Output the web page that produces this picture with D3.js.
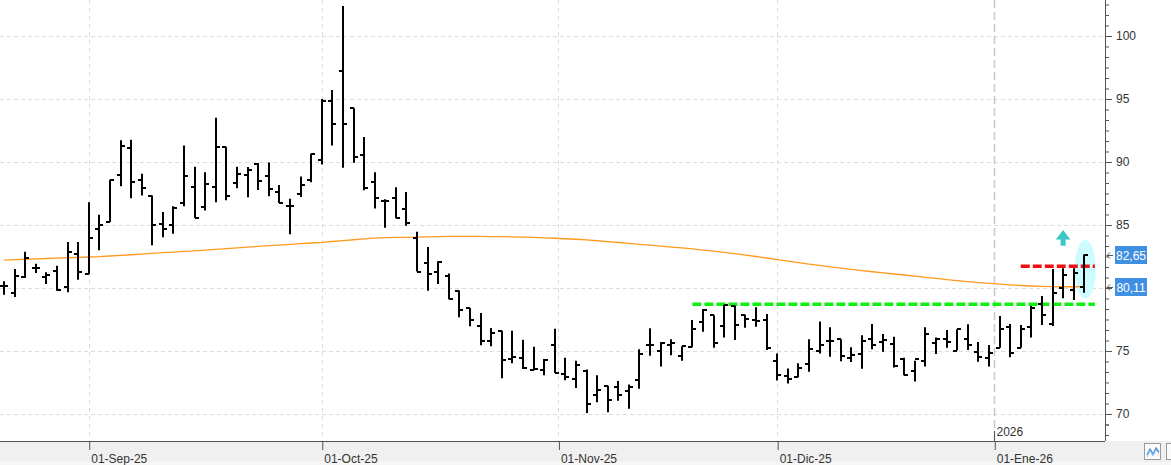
<!DOCTYPE html>
<html><head><meta charset="utf-8">
<script src="https://cdn.jsdelivr.net/npm/d3@7"></script>
<style>body{margin:0;background:#fff}svg{display:block}text{font-family:"Liberation Sans",Arial,sans-serif}</style>
</head><body><svg id="c" width="1171" height="465"></svg>
<script>
// ---- data ----
const opens = [80.13,79.60,80.87,81.61,80.85,81.35,80.11,82.70,81.14,84.68,85.24,89.00,91.08,88.60,87.33,85.08,85.00,86.75,88.02,86.43,88.02,91.22,88.36,88.94,89.84,88.89,87.65,86.53,87.43,88.55,90.16,94.84,97.22,94.26,90.53,88.39,86.88,87.12,86.24,83.94,81.96,81.30,80.95,79.76,78.41,76.98,75.79,76.61,74.37,74.47,73.47,73.47,75.48,73.17,72.78,73.44,71.53,72.25,72.17,71.83,72.70,75.45,75.00,75.45,74.58,75.29,77.28,77.83,76.96,78.60,77.86,77.46,77.46,74.18,72.99,72.91,73.94,75.00,75.77,75.93,74.42,74.74,75.93,75.71,75.56,74.39,73.41,74.18,75.66,75.95,75.03,75.95,74.95,74.47,75.26,76.88,75.26,76.93,78.70,77.12,79.97,79.84,80.06];
const highs = [80.53,81.51,82.88,81.93,81.24,81.77,83.65,83.65,86.80,85.82,88.60,91.72,91.77,89.07,87.35,86.03,86.48,91.30,89.63,89.18,93.52,91.22,89.63,89.60,89.92,89.97,88.17,87.09,88.84,90.66,95.00,95.71,102.38,94.26,91.98,89.18,87.04,87.99,87.62,84.47,83.25,82.12,81.16,79.81,78.41,78.02,76.83,76.61,76.61,75.90,75.34,74.37,76.77,74.47,74.23,73.54,73.07,72.25,72.62,72.35,75.13,76.80,75.69,75.93,75.37,77.46,78.33,77.83,78.65,78.60,77.88,78.47,77.94,74.81,73.62,74.02,75.93,77.35,76.88,75.93,75.29,76.24,77.14,76.35,76.14,74.47,74.23,76.88,76.08,76.67,76.72,77.12,75.71,75.48,77.78,77.14,77.06,78.57,79.37,81.51,81.56,81.56,82.65];
const lows = [79.47,79.29,80.79,81.19,80.32,79.79,79.66,80.66,81.11,83.00,85.24,88.07,87.12,87.35,83.39,84.02,84.31,86.48,85.56,86.16,86.80,86.96,87.91,87.20,87.78,87.28,86.75,84.26,87.22,88.39,89.81,91.30,89.55,89.95,87.75,86.30,84.79,85.53,84.95,81.30,79.79,80.32,79.10,77.67,76.96,75.45,75.37,72.83,74.02,73.57,73.47,73.07,73.25,72.67,72.06,70.08,70.93,70.13,71.06,70.42,72.01,74.63,73.76,74.66,74.23,75.29,76.53,75.26,76.08,75.87,76.85,76.93,75.08,72.65,72.43,72.91,73.36,74.81,74.55,74.18,74.13,73.60,75.13,74.95,73.70,73.07,72.57,73.76,74.76,75.26,75.03,75.08,74.15,73.76,75.26,74.50,75.26,76.08,77.06,76.98,79.18,79.05,79.63];
const closes = [80.13,80.98,82.38,81.56,81.06,79.87,82.86,81.27,83.97,84.97,88.55,91.24,88.44,87.94,85.00,84.71,86.38,88.86,85.56,88.25,91.19,87.30,89.05,89.39,88.52,87.86,86.75,86.53,88.17,90.66,94.87,93.02,93.02,90.40,87.91,87.12,86.90,85.53,85.13,81.30,81.08,82.09,79.10,78.28,77.49,75.79,76.40,74.26,74.55,73.68,73.57,74.29,73.25,72.96,73.86,70.82,71.90,71.14,71.48,72.12,74.74,75.45,75.66,75.66,75.37,76.72,78.25,75.63,78.65,77.09,77.54,77.41,75.21,73.07,72.80,73.62,75.13,75.45,75.77,74.58,74.66,75.77,75.45,75.87,73.78,73.07,74.37,76.32,75.98,75.69,76.72,75.50,74.55,74.81,76.72,74.81,76.75,78.40,77.86,79.63,81.03,81.22,82.65];
const movingAvg = [82.22,82.25,82.28,82.31,82.34,82.37,82.40,82.43,82.46,82.49,82.54,82.59,82.64,82.69,82.75,82.80,82.85,82.90,82.95,83.01,83.07,83.13,83.19,83.25,83.30,83.36,83.41,83.47,83.52,83.57,83.62,83.69,83.76,83.83,83.90,83.96,83.99,84.01,84.02,84.04,84.06,84.08,84.09,84.10,84.10,84.09,84.08,84.07,84.05,84.03,84.01,83.98,83.95,83.91,83.87,83.82,83.75,83.68,83.61,83.54,83.47,83.40,83.33,83.25,83.18,83.10,83.01,82.92,82.82,82.72,82.61,82.50,82.38,82.26,82.14,82.02,81.90,81.79,81.68,81.57,81.47,81.38,81.29,81.20,81.11,81.03,80.94,80.85,80.76,80.67,80.58,80.50,80.43,80.36,80.30,80.25,80.20,80.16,80.13,80.11,80.10,80.10,80.11];
const monthLabels = ["01-Sep-25","01-Oct-25","01-Nov-25","01-Dic-25","01-Ene-26"];
const monthBarIndex = [8, 30, 52.35, 73, 93.5];
const yearLabel = "2026";
const yTickValues = [70,75,80,85,90,95,100];
const yTickHidden = [80]; // covered by the last-value label in the reference
const supportLevel = 78.71, supportFrom = 65, supportTo = 103;
const resistLevel = 81.72, resistFrom = 96, resistTo = 103;
const lastPriceLabels = [{v:82.65, t:"82,65"},{v:80.11, t:"80,11"}];
const highlightBar = 102, highlightCenter = 81.48;
const arrowBar = 100, arrowTop = 84.6, arrowBottom = 83.36;

// ---- layout ----
const W=1171, H=465, plotR=1105, plotB=441;
const svg = d3.select("#c");
const x = d3.scaleLinear().domain([0, 102]).range([4, 1084.3]);
const y = d3.scaleLinear().domain([67.857, 102.857]).range([plotB, 0]);

// bottom strip
svg.append("rect").attr("x",0).attr("y",plotB).attr("width",W).attr("height",H-plotB).attr("fill","#f0f0f0");
svg.append("rect").attr("x",0).attr("y",462).attr("width",W).attr("height",3).attr("fill","#f7f7f7");

svg.append("defs").append("clipPath").attr("id","pc").append("rect").attr("x",0).attr("y",0).attr("width",plotR).attr("height",plotB);
const plot = svg.append("g").attr("clip-path","url(#pc)");

// horizontal grid
plot.selectAll(".hg").data(yTickValues).join("line")
  .attr("x1",0).attr("x2",plotR).attr("y1",d=>Math.round(y(d))+0.5).attr("y2",d=>Math.round(y(d))+0.5)
  .attr("stroke","#dcdcdc").attr("stroke-dasharray","4,3");
// vertical grid
plot.selectAll(".vg").data(monthBarIndex).join("line")
  .attr("x1",d=>Math.round(x(d))+0.5).attr("x2",d=>Math.round(x(d))+0.5).attr("y1",0).attr("y2",plotB)
  .attr("stroke",(d,i)=>i===4?"#c8c8c8":"#dcdcdc").attr("stroke-width",(d,i)=>i===4?1.5:1)
  .attr("stroke-dasharray",(d,i)=>i===4?"8,4":"4,4");

// highlight ellipse
plot.append("ellipse").attr("cx",x(highlightBar)+1).attr("cy",y(highlightCenter)).attr("rx",10.5).attr("ry",29.5).attr("fill","#ccfcff");

// moving average
plot.append("path").datum(movingAvg)
  .attr("d", d3.line().x((d,i)=>x(i)).y(d=>y(d)))
  .attr("fill","none").attr("stroke","#ff9a1f").attr("stroke-width",1.3);

// support / resistance
plot.append("line").attr("x1",x(supportFrom)).attr("x2",x(supportTo)).attr("y1",y(supportLevel)).attr("y2",y(supportLevel))
  .attr("stroke","#11ee11").attr("stroke-width",3.5).attr("stroke-dasharray","9,3");
plot.append("line").attr("x1",x(resistFrom)).attr("x2",x(resistTo)).attr("y1",y(resistLevel)).attr("y2",y(resistLevel))
  .attr("stroke","#ee1111").attr("stroke-width",3.5).attr("stroke-dasharray","9,3");

// OHLC bars
const bars = plot.append("g").attr("stroke","#000").attr("stroke-width",2);
opens.forEach((o,i)=>{
  const cx = Math.round(x(i));
  bars.append("line").attr("x1",cx).attr("x2",cx).attr("y1",y(highs[i])).attr("y2",y(lows[i]));
  const yo = Math.round(y(o)), yc = Math.round(y(closes[i]));
  bars.append("line").attr("x1",cx-4).attr("x2",cx).attr("y1",yo).attr("y2",yo);
  bars.append("line").attr("x1",cx).attr("x2",cx+4).attr("y1",yc).attr("y2",yc);
});

// up arrow
{
  const ax = x(arrowBar), yt = y(arrowTop), yb = y(arrowBottom), hb = yt + 9.5;
  plot.append("path").attr("d",`M${ax},${yt} L${ax+7.3},${hb} L${ax+2.5},${hb} L${ax+2.5},${yb} L${ax-2.5},${yb} L${ax-2.5},${hb} L${ax-7.3},${hb} Z`)
    .attr("fill","#3cc6c8");
}

// right axis
svg.append("line").attr("x1",plotR+0.5).attr("x2",plotR+0.5).attr("y1",0).attr("y2",plotB).attr("stroke","#555");
const minor = [];
for (let b=65; b<=100; b+=5) for (let j=1;j<6;j++) { const v=b+j*5/6; if (v<102.85 && v>67.86) minor.push(v); }
minor.push(69.167);
const yAxisMinor = d3.axisRight(y).tickValues(minor).tickSize(4).tickFormat("");
const gm = svg.append("g").attr("transform",`translate(${plotR},0)`).call(yAxisMinor);
gm.select(".domain").remove(); gm.selectAll("line").attr("stroke","#555");
const yAxis = d3.axisRight(y).tickValues(yTickValues).tickSize(7).tickPadding(4)
  .tickFormat(d=>yTickHidden.includes(d)?"":d3.format("d")(d));
const ga = svg.append("g").attr("transform",`translate(${plotR},0)`).call(yAxis);
ga.select(".domain").remove();
ga.selectAll("line").attr("stroke","#555");
ga.selectAll("text").attr("font-size",12).attr("fill","#333").attr("font-family","Liberation Sans, Arial, sans-serif");

// last price labels
lastPriceLabels.forEach(p=>{
  const yy = Math.round(y(p.v));
  svg.append("rect").attr("x",1115).attr("y",yy-9).attr("width",32).attr("height",18).attr("fill","#3f8fe2");
  svg.append("text").attr("x",1131).attr("y",yy+4.5).attr("text-anchor","middle").attr("font-size",12).attr("fill","#fff").text(p.t);
  svg.append("path").attr("d",`M${plotR+8},${yy+0.5} L${plotR+2},${yy+0.5} M${plotR+5},${yy-2.5} L${plotR+2},${yy+0.5} L${plotR+5},${yy+3.5}`)
    .attr("stroke","#555").attr("fill","none");
});

// bottom axis
svg.append("line").attr("x1",0).attr("x2",plotR).attr("y1",plotB+0.5).attr("y2",plotB+0.5).attr("stroke","#555");
const xAxis = d3.axisBottom(x).tickValues(monthBarIndex).tickSize(9).tickFormat((d,i)=>monthLabels[i]);
const gx = svg.append("g").attr("transform",`translate(0,${plotB})`).call(xAxis);
gx.select(".domain").remove();
gx.selectAll("line").attr("stroke","#555").attr("transform","translate(0.5,0)");
gx.selectAll("text").attr("text-anchor","start").attr("dx",2).attr("y",13).attr("dy","0.71em")
  .attr("font-size",12).attr("fill","#333").attr("font-family","Liberation Sans, Arial, sans-serif");
// year marker
const yx = Math.round(x(monthBarIndex[4]))+0.5;
svg.append("line").attr("x1",yx).attr("x2",yx).attr("y1",plotB-10).attr("y2",plotB).attr("stroke","#555");
svg.append("text").attr("x",yx+2).attr("y",plotB-5).attr("font-size",12).attr("fill","#333").text(yearLabel);

// bottom-right buttons
svg.append("rect").attr("x",1144.5).attr("y",443.5).attr("width",16).attr("height",16).attr("fill","#fafafa").attr("stroke","#9a9a9a");
svg.append("path").attr("d","M1147,455 L1150,449 L1153,454 L1156,448 L1159,452").attr("fill","none").attr("stroke","#4a8fd8").attr("stroke-width",1.3);
svg.append("path").attr("d","M1147,457 L1150,451 L1153,456 L1156,450 L1159,454").attr("fill","none").attr("stroke","#9cc3ea").attr("stroke-width",1);
svg.append("rect").attr("x",1166.5).attr("y",443.5).attr("width",16).attr("height",16).attr("fill","#fafafa").attr("stroke","#9a9a9a");
</script></body></html>
